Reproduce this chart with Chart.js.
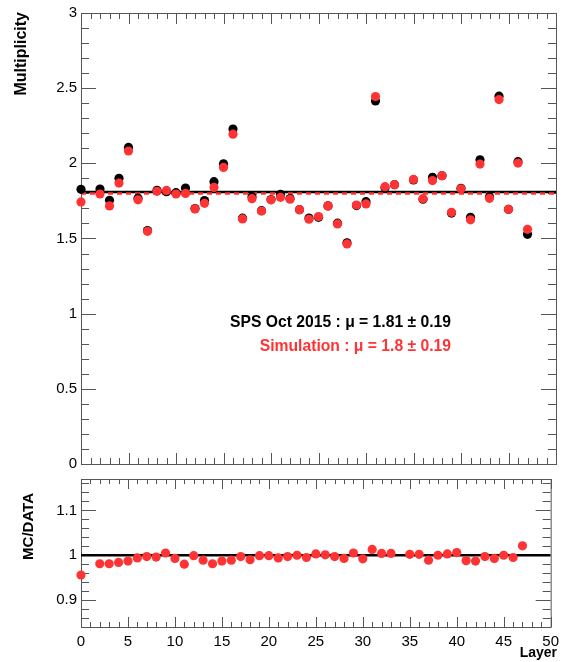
<!DOCTYPE html>
<html>
<head>
<meta charset="utf-8">
<title>Multiplicity per layer</title>
<script src="https://cdn.jsdelivr.net/npm/chart.js@4.4.1/dist/chart.umd.min.js"></script>
<style>
  body { margin: 0; background: #fff; }
  #wrap { position: relative; width: 565px; height: 662px; }
  canvas { position: absolute; left: 0; }
</style>
</head>
<body>
<div id="wrap">
  <canvas id="top" width="565" height="480" style="top:0;width:565px;height:480px"></canvas>
  <canvas id="bottom" width="565" height="196" style="top:466px;width:565px;height:196px"></canvas>
</div>
<script>
// layers 1 and 34 have no measurement
const layers = [0,1,2,3,4,5,6,7,8,9,10,11,12,13,14,15,16,17,18,19,20,21,22,23,
  24,25,26,27,28,29,30,31,32,33,34,35,36,37,38,39,40,41,42,43,44,45,46,47];

const dataMult = [1.827,null,1.829,1.754,1.900,2.106,1.768,1.553,1.821,1.811,1.805,1.836,
  1.699,1.752,1.878,1.997,2.228,1.635,1.778,1.685,1.759,1.794,1.766,1.692,
  1.636,1.641,1.717,1.602,1.471,1.719,1.745,2.415,1.838,1.858,null,1.889,
  1.761,1.907,1.918,1.669,1.834,1.641,2.024,1.778,2.447,1.694,2.011,1.528];

const simMult = [1.743,null,1.796,1.717,1.869,2.082,1.757,1.548,1.814,1.820,1.796,1.800,
  1.697,1.734,1.840,1.973,2.194,1.630,1.765,1.683,1.757,1.774,1.761,1.692,
  1.628,1.646,1.717,1.597,1.464,1.723,1.730,2.444,1.845,1.858,null,1.893,
  1.765,1.885,1.918,1.674,1.831,1.624,1.995,1.767,2.424,1.694,2.002,1.561];

const ratio = [0.956,null,0.981,0.981,0.984,0.987,0.994,0.997,0.996,1.005,0.993,0.980,
  0.999,0.989,0.981,0.987,0.989,0.997,0.990,0.999,0.999,0.994,0.997,1.000,
  0.995,1.003,1.001,0.997,0.993,1.005,0.992,1.013,1.004,1.004,null,1.002,
  1.002,0.989,1.000,1.003,1.006,0.988,0.987,0.997,0.993,1.000,0.995,1.021];

const dataMean = 1.81, dataRms = 0.19;
const simMean = 1.8, simRms = 0.19;

const xTicks = [0,5,10,15,20,25,30,35,40,45,50];
const yTicksTop = [0,0.5,1,1.5,2,2.5,3];
const yTicksRatio = [0.9,1,1.1];

const RED = '#ff3333';
const FONT = "'Liberation Sans', Arial, sans-serif";
Chart.defaults.font.family = FONT;
Chart.defaults.color = '#000';

const pts = vals => layers.map((l, i) => ({x: l, y: vals[i]}));
const hline = v => [{x: 0, y: v}, {x: 50, y: v}];

// ROOT-style frame with ticks on all four sides, pointing inward
const frameTicks = {
  id: 'frameTicks',
  beforeDatasetsDraw(chart, args, o) {
    const {ctx, chartArea: a, scales: {x, y}} = chart;
    ctx.save();
    ctx.strokeStyle = '#555';
    ctx.lineWidth = 1;
    ctx.strokeRect(a.left + 0.5, a.top + 0.5, a.right - a.left, a.bottom - a.top);
    ctx.beginPath();
    const isMaj = (v, m) => Math.abs(v / m - Math.round(v / m)) < 1e-6;
    for (let v = Math.ceil(x.min / o.xMinor - 1e-6) * o.xMinor; v <= x.max + 1e-6; v += o.xMinor) {
      const px = Math.round(x.getPixelForValue(v)) + 0.5;
      const len = isMaj(v, o.xMajor) ? o.xMaj : o.xMin;
      ctx.moveTo(px, a.bottom); ctx.lineTo(px, a.bottom - len);
      ctx.moveTo(px, a.top); ctx.lineTo(px, a.top + len);
    }
    for (let v = Math.ceil(y.min / o.yMinor - 1e-6) * o.yMinor; v <= y.max + 1e-6; v += o.yMinor) {
      const py = Math.round(y.getPixelForValue(v)) + 0.5;
      const len = isMaj(v, o.yMajor) ? o.yMaj : o.yMin;
      ctx.moveTo(a.left, py); ctx.lineTo(a.left + len, py);
      ctx.moveTo(a.right, py); ctx.lineTo(a.right - len, py);
    }
    ctx.stroke();
    ctx.restore();
  },
  afterDraw(chart, args, o) {
    const ctx = chart.ctx;
    ctx.save();
    ctx.font = 'bold ' + o.titleSize + 'px ' + FONT;
    ctx.fillStyle = '#000';
    // vertical axis title, aligned to the top like ROOT
    ctx.translate(o.titleX, o.titleY);
    ctx.rotate(-Math.PI / 2);
    ctx.textAlign = 'right';
    ctx.textBaseline = 'middle';
    ctx.fillText(o.yTitle, 0, 0);
    ctx.restore();
    if (o.extra) o.extra(chart);
  }
};

const baseOpts = {
  responsive: false,
  animation: false,
  events: [],
  plugins: {legend: {display: false}, tooltip: {enabled: false}}
};

const yScale = (min, max, ticks) => ({
  type: 'linear', min, max,
  afterFit: s => { s.width = 81; },
  afterBuildTicks: s => { s.ticks = ticks.map(v => ({value: v})); },
  ticks: {callback: v => String(v), padding: 4, font: {size: 15}, color: '#000'},
  grid: {display: false, drawTicks: false},
  border: {display: false}
});

new Chart(document.getElementById('top'), {
  type: 'scatter',
  data: {
    datasets: [
      {data: pts(simMult), backgroundColor: RED, pointRadius: 4.6, borderWidth: 0, order: 0, clip: false},
      {data: pts(dataMult), backgroundColor: '#000', pointRadius: 4.6, borderWidth: 0, order: 1, clip: false},
      {data: hline(simMean), showLine: true, borderColor: RED, borderWidth: 2.5, borderDash: [5, 4],
       pointRadius: 0, order: 2},
      {data: hline(dataMean), showLine: true, borderColor: '#000', borderWidth: 2.5,
       pointRadius: 0, order: 3}
    ]
  },
  options: {
    ...baseOpts,
    layout: {padding: {left: 0, right: 9, top: 13, bottom: 16}, autoPadding: false},
    scales: {
      x: {type: 'linear', min: 0, max: 50, display: false},
      y: yScale(0, 3, yTicksTop)
    },
    plugins: {
      ...baseOpts.plugins,
      frameTicks: {
        xMinor: 1, xMajor: 5, xMaj: 11, xMin: 6,
        yMinor: 0.1, yMajor: 0.5, yMaj: 15, yMin: 8,
        yTitle: 'Multiplicity', titleX: 22, titleY: 12, titleSize: 16,
        extra: chart => {
          const ctx = chart.ctx;
          ctx.save();
          ctx.font = 'bold 15.7px ' + FONT;
          ctx.textAlign = 'right';
          ctx.textBaseline = 'middle';
          ctx.fillStyle = '#000';
          ctx.fillText('SPS Oct 2015 : \u03bc = ' + dataMean + ' \u00b1 ' + dataRms, 451, 323);
          ctx.fillStyle = RED;
          ctx.fillText('Simulation : \u03bc = ' + simMean + ' \u00b1 ' + simRms, 451, 347);
          ctx.restore();
        }
      }
    }
  },
  plugins: [frameTicks]
});

new Chart(document.getElementById('bottom'), {
  type: 'scatter',
  data: {
    datasets: [
      {data: pts(ratio), backgroundColor: RED, pointRadius: 4.6, borderWidth: 0, order: 0, clip: false},
      {data: hline(1), showLine: true, borderColor: '#000', borderWidth: 2.5, pointRadius: 0, order: 1}
    ]
  },
  options: {
    ...baseOpts,
    layout: {padding: {left: 0, right: 9, top: 7, bottom: 0}, autoPadding: false},
    scales: {
      x: {
        type: 'linear', min: 0, max: 50,
        afterFit: s => { s.height = 35; },
        afterBuildTicks: s => { s.ticks = xTicks.map(v => ({value: v})); },
        ticks: {padding: 6, font: {size: 15}, color: '#000', maxRotation: 0},
        grid: {display: false, drawTicks: false},
        border: {display: false}
      },
      y: yScale(0.84, 1.17, yTicksRatio)
    },
    plugins: {
      ...baseOpts.plugins,
      frameTicks: {
        xMinor: 1, xMajor: 5, xMaj: 10, xMin: 5,
        yMinor: 0.02, yMajor: 0.1, yMaj: 15, yMin: 8,
        yTitle: 'MC/DATA', titleX: 29, titleY: 27, titleSize: 15,
        extra: chart => {
          const ctx = chart.ctx;
          ctx.save();
          ctx.font = 'bold 14px ' + FONT;
          ctx.textAlign = 'right';
          ctx.textBaseline = 'middle';
          ctx.fillStyle = '#000';
          ctx.fillText('Layer', 557, 187);
          ctx.restore();
        }
      }
    }
  },
  plugins: [frameTicks]
});
</script>
</body>
</html>
